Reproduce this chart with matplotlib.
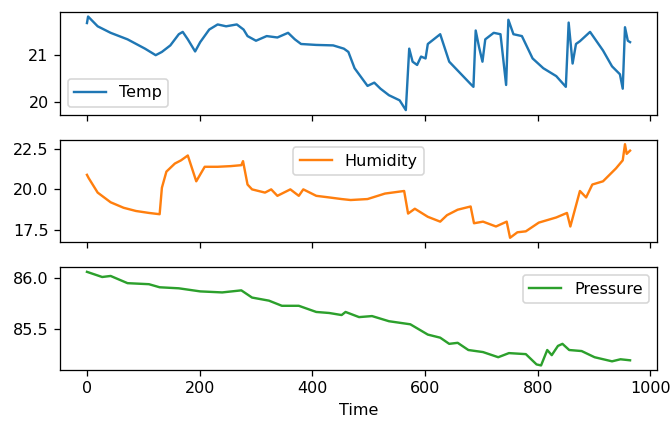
import matplotlib
matplotlib.use('Agg')
import matplotlib.pyplot as plt

# readings taken off the reference chart (time, value)
temp_t = [0, 2, 19, 42, 72, 103, 122, 133, 148, 163, 170, 179, 192, 201, 217, 232, 247, 266, 278,
          285, 300, 319, 338, 357, 369, 380, 407, 437, 456, 464, 475, 498, 510, 521, 536, 555, 566,
          572, 578, 586, 593, 601, 605, 627, 643, 662, 681, 686, 690, 696, 702, 707, 722, 734, 744,
          748, 757, 772, 791, 810, 833, 850, 855, 862, 868, 875, 893, 916, 932, 946, 951, 955, 960, 964]
temp = [21.69, 21.83, 21.62, 21.48, 21.34, 21.14, 21.00, 21.07, 21.21, 21.45, 21.50, 21.34, 21.08, 21.28,
        21.55, 21.66, 21.62, 21.66, 21.55, 21.41, 21.31, 21.41, 21.38, 21.48, 21.34, 21.24, 21.22, 21.21,
        21.14, 21.07, 20.72, 20.34, 20.41, 20.28, 20.14, 20.03, 19.82, 21.14, 20.86, 20.79, 20.97, 20.93,
        21.24, 21.45, 20.86, 20.62, 20.38, 20.32, 21.53, 21.17, 20.86, 21.34, 21.48, 21.45, 20.36, 21.76,
        21.45, 21.41, 20.93, 20.72, 20.55, 20.32, 21.70, 20.82, 21.24, 21.30, 21.50, 21.10, 20.76, 20.59,
        20.28, 21.60, 21.31, 21.28]

hum_t = [0, 3, 19, 42, 65, 87, 110, 129, 133, 141, 156, 167, 179, 194, 209, 232, 255, 274, 277, 285,
         293, 316, 327, 338, 361, 376, 384, 407, 430, 452, 468, 498, 529, 563, 570, 582, 605, 627, 639,
         658, 681, 687, 703, 726, 745, 751, 764, 779, 802, 833, 852, 858, 875, 886, 897, 916, 939, 951,
         955, 958, 964]
hum = [20.9, 20.7, 19.8, 19.2, 18.86, 18.66, 18.54, 18.46, 20.1, 21.1, 21.6, 21.8, 22.1, 20.5, 21.4,
       21.4, 21.44, 21.5, 21.75, 20.3, 20.0, 19.8, 20.0, 19.6, 20.0, 19.6, 20.0, 19.6, 19.5, 19.4, 19.34,
       19.4, 19.74, 19.9, 18.5, 18.8, 18.3, 18.0, 18.4, 18.74, 18.94, 17.9, 18.0, 17.7, 18.0, 17.0, 17.34,
       17.4, 17.94, 18.26, 18.54, 17.7, 19.9, 19.5, 20.3, 20.5, 21.3, 21.8, 22.8, 22.2, 22.4]

pres_t = [0, 27, 42, 72, 110, 129, 163, 201, 240, 274, 293, 323, 346, 376, 407, 430, 452, 459, 483,
          506, 536, 574, 605, 627, 643, 658, 677, 703, 730, 749, 779, 798, 806, 817, 825, 836, 844,
          856, 878, 901, 932, 947, 964]
pres = [86.06, 86.01, 86.02, 85.95, 85.94, 85.91, 85.90, 85.87, 85.86, 85.88, 85.81, 85.78, 85.73,
        85.73, 85.67, 85.66, 85.64, 85.67, 85.62, 85.63, 85.58, 85.55, 85.45, 85.42, 85.36, 85.37,
        85.30, 85.28, 85.23, 85.27, 85.26, 85.16, 85.15, 85.30, 85.25, 85.34, 85.36, 85.30, 85.29,
        85.23, 85.19, 85.21, 85.20]

DPI = 115
fig, axes = plt.subplots(3, 1, sharex=True, figsize=(672 / DPI, 423 / DPI), dpi=DPI)
fig.subplots_adjust(left=0.089, right=0.978, top=0.972, bottom=0.125, hspace=0.24)

axes[0].plot(temp_t, temp, color='tab:blue', label='Temp')
axes[0].legend(loc='lower left')
axes[1].plot(hum_t, hum, color='tab:orange', label='Humidity')
axes[1].legend(loc='upper center')
axes[1].set_yticks([17.5, 20.0, 22.5])
axes[2].plot(pres_t, pres, color='tab:green', label='Pressure')
axes[2].legend(loc='upper right')
axes[2].set_yticks([85.5, 86.0])
axes[2].set_xlabel('Time')

fig.savefig('out.png')
